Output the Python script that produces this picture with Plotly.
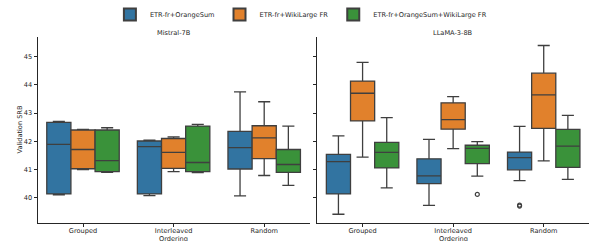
import plotly.graph_objects as go

categories = ["Grouped", "Interleaved", "Random"]
hues = ["ETR-fr+OrangeSum", "ETR-fr+WikiLarge FR", "ETR-fr+OrangeSum+WikiLarge FR"]
models = ["Mistral-7B", "LLaMA-3-8B"]
colors = ["#3274A1", "#E1812C", "#3A923A"]

# rows: hue, cols: category
mistral_min = [[40.11, 40.08, 40.07], [41.00, 40.93, 40.79], [40.90, 40.89, 40.44]]
mistral_q1 = [[40.14, 40.14, 41.02], [41.03, 41.04, 41.39], [40.93, 40.93, 40.90]]
mistral_med = [[41.89, 41.81, 41.78], [41.71, 41.61, 42.12], [41.32, 41.25, 41.18]]
mistral_q3 = [[42.67, 42.01, 42.35], [42.40, 42.10, 42.55], [42.40, 42.54, 41.71]]
mistral_max = [[42.70, 42.04, 43.75], [42.42, 42.16, 43.40], [42.48, 42.60, 42.54]]

llama_min = [[39.42, 39.73, 40.61], [41.44, 41.74, 41.31], [40.35, 40.77, 40.65]]
llama_q1 = [[40.14, 40.50, 40.99], [42.72, 42.43, 42.46], [41.06, 41.21, 41.08]]
llama_med = [[41.28, 40.78, 41.42], [43.70, 42.77, 43.64], [41.61, 41.75, 41.83]]
llama_q3 = [[41.54, 41.38, 41.62], [44.13, 43.36, 44.41], [41.96, 41.86, 42.42]]
llama_max = [[42.19, 42.07, 42.53], [44.79, 43.58, 45.39], [42.84, 41.99, 42.92]]

# outliers: (model index, hue index, category index, value)
outlier_model = [1, 1, 1]
outlier_hue = [2, 0, 0]
outlier_cat = [1, 2, 2]
outlier_val = [40.12, 39.74, 39.71]

stats = [
    (mistral_min, mistral_q1, mistral_med, mistral_q3, mistral_max),
    (llama_min, llama_q1, llama_med, llama_q3, llama_max),
]

nh = len(hues)
bw = 0.8 / nh
line_col = "#3f3f3f"
fig = go.Figure()

for m, (mn, q1, md, q3, mx) in enumerate(stats):
    xa = "x" if m == 0 else "x2"
    ya = "y" if m == 0 else "y2"
    for h in range(nh):
        off = (h - (nh - 1) / 2) * bw
        xs = [i + off for i in range(len(categories))]
        fig.add_trace(go.Box(
            x=xs, q1=q1[h], median=md[h], q3=q3[h],
            lowerfence=mn[h], upperfence=mx[h],
            width=bw, whiskerwidth=0.5,
            fillcolor=colors[h], line=dict(color=line_col, width=1.3),
            name=hues[h], legendgroup=hues[h], showlegend=(m == 0),
            xaxis=xa, yaxis=ya, hoverinfo="skip",
        ))

for k in range(len(outlier_val)):
    m = outlier_model[k]
    off = (outlier_hue[k] - (nh - 1) / 2) * bw
    fig.add_trace(go.Scatter(
        x=[outlier_cat[k] + off], y=[outlier_val[k]], mode="markers",
        marker=dict(symbol="circle-open", size=4, color=line_col, line=dict(width=1.2)),
        showlegend=False, xaxis="x" if m == 0 else "x2", yaxis="y" if m == 0 else "y2",
    ))

font = dict(family="DejaVu Sans", size=6.6, color="#262626")
W, H = 590, 241
mt, mb = 37, 18
ph = H - mt - mb

xcommon = dict(
    range=[-0.5, 2.5], tickmode="array", tickvals=list(range(len(categories))),
    ticktext=categories, ticks="outside", ticklen=3, tickwidth=1, tickcolor="#262626",
    showline=True, linecolor="#262626", linewidth=1.3, showgrid=False, zeroline=False,
    tickfont=font, fixedrange=True, automargin=False, ticklabelstandoff=-2,
)
ycommon = dict(
    range=[39.11, 45.69], tickvals=[40, 41, 42, 43, 44, 45],
    ticks="outside", ticklen=3, tickwidth=1, tickcolor="#262626",
    showline=True, linecolor="#262626", linewidth=1.3, showgrid=False, zeroline=False,
    tickfont=font, automargin=False,
)

d1 = [37.7 / W, 309.5 / W]
d2 = [317.3 / W, 589.0 / W]

fig.update_layout(
    width=W, height=H,
    margin=dict(l=0, r=0, t=mt, b=mb, autoexpand=False),
    paper_bgcolor="white", plot_bgcolor="white",
    boxmode="overlay",
    font=font,
    xaxis=dict(domain=d1, anchor="y", **xcommon),
    xaxis2=dict(domain=d2, anchor="y2", **xcommon),
    yaxis=dict(anchor="x", domain=[0, 1], **ycommon),
    yaxis2=dict(anchor="x2", domain=[0, 1], matches="y", showticklabels=False, **ycommon),
    legend=dict(orientation="h", x=0.51, xanchor="center", y=1 + (37 - 14.5) / ph,
                yanchor="middle", font=font, itemsizing="constant", traceorder="normal",
                bgcolor="rgba(0,0,0,0)", itemwidth=30),
    showlegend=True,
)

ann = []
for m, d in enumerate([d1, d2]):
    cx = (d[0] + d[1]) / 2
    ann.append(dict(text=models[m], x=cx, y=1 + (37 - 32.5) / ph, xref="paper", yref="paper",
                    showarrow=False, font=font, xanchor="center", yanchor="middle"))
    ann.append(dict(text="Ordering", x=cx, y=-(239 - 223) / ph, xref="paper", yref="paper",
                    showarrow=False, font=font, xanchor="center", yanchor="middle"))
ann.append(dict(text="Validation SRB", x=19.5 / W, y=(223 - 130) / ph, xref="paper", yref="paper",
                showarrow=False, font=font, textangle=-90, xanchor="center", yanchor="middle"))
fig.update_layout(annotations=ann)

fig.write_html("out.html", config={"displayModeBar": False},
               post_script="document.body.style.margin='0';document.body.style.overflow='hidden';")
